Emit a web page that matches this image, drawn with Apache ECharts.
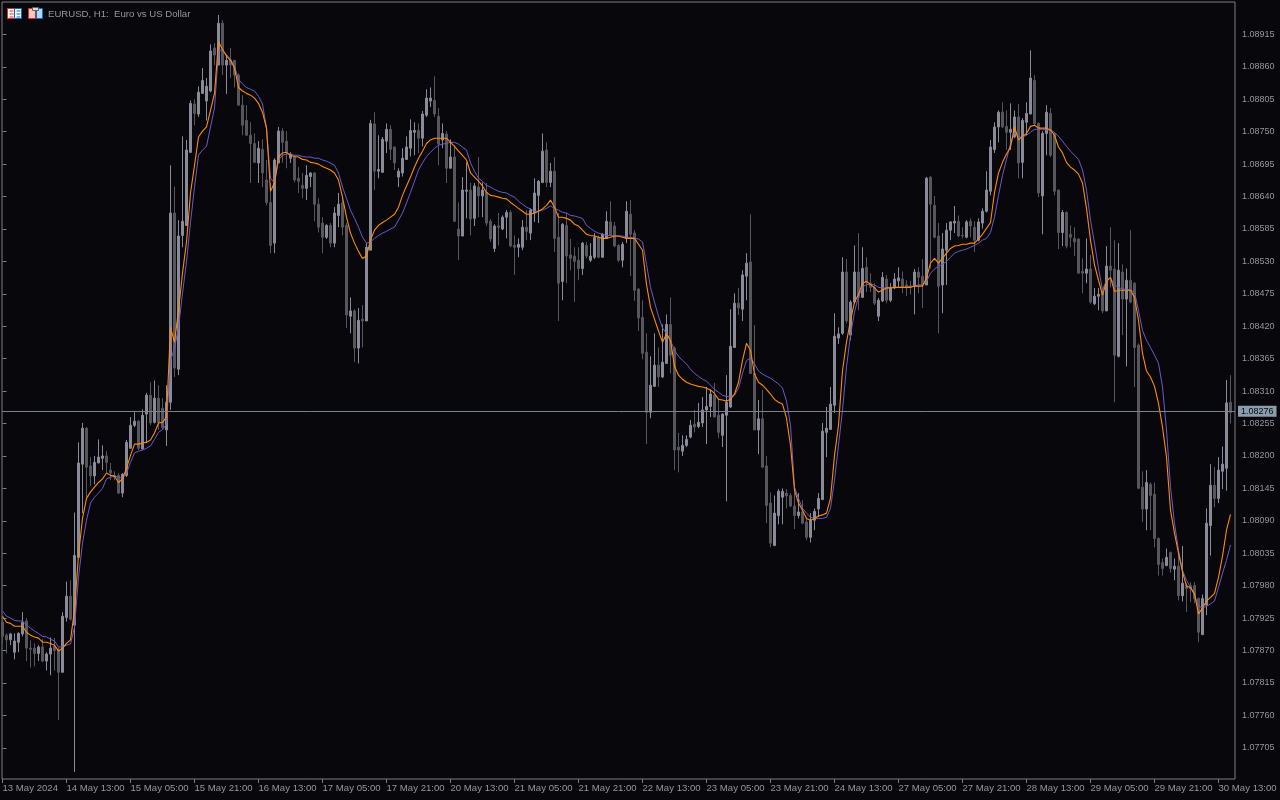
<!DOCTYPE html>
<html><head><meta charset="utf-8">
<style>html,body{margin:0;padding:0;background:#07070c}#c{width:1280px;height:800px}</style>
<script src="https://cdn.jsdelivr.net/npm/echarts@6/dist/echarts.min.js"></script>
</head><body><div id="c"></div>
<script>
// all price arrays are in points above 1.07000 (1276 = 1.08276)
const basePrice = 1.07;
const opens = [918,896,888,867,884,898,920,874,874,865,
876,852,864,877,872,833,926,962,913,1028,
1186,1247,1183,1166,1188,1196,1200,1176,1167,1167,
1137,1167,1213,1252,1259,1212,1271,1303,1257,1298,
1281,1244,1291,1612,1347,1574,1591,1715,1797,1780,
1815,1802,1819,1892,1863,1934,1863,1871,1871,1846,
1795,1769,1744,1730,1697,1720,1668,1630,1561,1697,
1751,1734,1705,1707,1671,1659,1654,1674,1680,1627,
1595,1571,1591,1561,1608,1629,1591,1437,1446,1383,
1432,1429,1549,1763,1683,1681,1734,1754,1724,1673,
1680,1703,1722,1749,1752,1739,1778,1802,1803,1776,
1736,1746,1688,1707,1585,1573,1649,1651,1603,1656,
1641,1647,1598,1552,1590,1585,1605,1613,1557,1554,
1554,1588,1578,1612,1642,1664,1719,1664,1683,1571,
1496,1591,1541,1539,1532,1518,1557,1532,1537,1571,
1537,1569,1597,1590,1557,1532,1569,1610,1578,1483,
1435,1376,1274,1318,1354,1334,1357,1423,1383,1215,
1208,1218,1232,1254,1250,1256,1278,1284,1303,1269,
1235,1269,1283,1384,1459,1449,1505,1529,1340,1244,
1263,1183,1120,1048,1099,1130,1137,1133,1115,1099,
1105,1088,1062,1091,1110,1126,1240,1245,1286,1400,
1408,1512,1405,1461,1512,1469,1520,1493,1486,1437,
1463,1500,1464,1485,1497,1500,1490,1488,1488,1512,
1505,1490,1673,1625,1573,1490,1549,1583,1595,1598,
1574,1571,1598,1588,1566,1595,1615,1649,1720,1758,
1783,1759,1749,1741,1775,1698,1766,1780,1837,1764,
1641,1747,1781,1747,1651,1579,1613,1576,1569,1568,
1513,1510,1517,1458,1471,1476,1446,1522,1517,1369,
1512,1466,1498,1493,1388,1147,1110,1152,1135,1060,
1019,1014,1036,1008,1013,963,980,980,980,958,
897,947,1082,1150,1128,1174,1179,1291];
const closes = [894,888,898,886,899,918,874,872,865,876,
852,864,874,870,833,928,962,923,1031,1188,
1247,1181,1166,1189,1198,1200,1189,1171,1164,1137,
1169,1223,1252,1259,1213,1269,1303,1256,1298,1257,
1248,1291,1612,1349,1573,1598,1719,1798,1781,1817,
1837,1827,1887,1880,1934,1863,1871,1863,1846,1795,
1761,1744,1730,1698,1722,1680,1630,1557,1702,1751,
1732,1715,1712,1668,1666,1654,1676,1680,1627,1588,
1571,1591,1561,1612,1627,1588,1439,1446,1383,1430,
1429,1554,1764,1683,1686,1737,1754,1720,1697,1683,
1705,1724,1752,1752,1739,1780,1807,1807,1780,1729,
1747,1688,1707,1598,1573,1651,1651,1602,1658,1641,
1651,1595,1568,1590,1588,1605,1613,1556,1554,1559,
1588,1581,1617,1646,1666,1717,1664,1683,1569,1493,
1593,1539,1535,1530,1518,1561,1539,1539,1571,1537,
1576,1598,1574,1556,1532,1559,1615,1576,1481,1434,
1374,1274,1320,1354,1334,1359,1423,1371,1210,1210,
1218,1228,1252,1249,1257,1278,1284,1305,1266,1240,
1271,1291,1386,1459,1451,1507,1527,1340,1244,1263,
1181,1116,1052,1103,1140,1140,1132,1115,1099,1105,
1086,1062,1091,1106,1128,1242,1247,1288,1403,1407,
1512,1429,1461,1512,1469,1518,1495,1486,1459,1464,
1503,1464,1486,1500,1502,1486,1485,1486,1512,1503,
1490,1671,1627,1571,1488,1551,1583,1597,1598,1573,
1573,1597,1590,1566,1597,1615,1651,1724,1758,1783,
1758,1749,1754,1775,1697,1769,1781,1841,1764,1646,
1747,1783,1710,1649,1579,1613,1556,1571,1563,1510,
1510,1517,1461,1471,1474,1446,1522,1515,1371,1515,
1466,1498,1461,1384,1145,1110,1155,1133,1060,1016,
1009,1028,1009,1013,963,984,975,975,958,901,
958,1086,1150,1128,1176,1186,1290,1274];
const lows = [882,865,879,855,867,894,852,841,843,852,
850,836,828,836,752,833,919,921,664,1028,
1103,1130,1149,1152,1188,1176,1172,1159,1159,1135,
1130,1164,1213,1249,1210,1210,1222,1252,1255,1244,
1244,1217,1278,1334,1337,1554,1591,1714,1761,1775,
1815,1769,1817,1863,1863,1846,1814,1841,1825,1795,
1744,1744,1663,1697,1663,1656,1625,1544,1544,1697,
1697,1688,1697,1664,1646,1637,1634,1656,1598,1579,
1544,1568,1554,1554,1588,1574,1417,1408,1359,1357,
1384,1429,1549,1651,1671,1681,1714,1702,1685,1656,
1674,1702,1708,1710,1714,1725,1775,1792,1775,1693,
1722,1663,1688,1597,1532,1573,1603,1574,1590,1605,
1605,1590,1563,1546,1557,1583,1569,1554,1507,1537,
1549,1566,1566,1597,1595,1663,1656,1656,1546,1429,
1464,1493,1515,1461,1498,1507,1535,1529,1534,1535,
1537,1569,1574,1554,1529,1520,1561,1505,1463,1412,
1364,1220,1264,1317,1317,1332,1357,1340,1176,1172,
1200,1215,1230,1240,1247,1249,1220,1266,1266,1230,
1215,1123,1281,1384,1439,1429,1464,1340,1244,1203,
1179,1086,1045,1047,1084,1084,1111,1113,1076,1094,
1084,1057,1053,1074,1096,1125,1198,1244,1273,1390,
1405,1425,1396,1458,1447,1468,1478,1478,1456,1429,
1461,1459,1461,1483,1485,1476,1471,1474,1440,1476,
1451,1490,1518,1569,1408,1442,1490,1566,1578,1571,
1569,1569,1571,1546,1564,1586,1613,1642,1714,1732,
1756,1719,1719,1739,1671,1671,1744,1780,1761,1639,
1576,1710,1707,1642,1551,1556,1552,1554,1539,1510,
1476,1493,1458,1456,1447,1442,1446,1486,1291,1367,
1405,1352,1459,1317,1145,1088,1074,1074,1045,997,
997,1013,1002,989,955,953,935,952,950,884,
896,930,1031,1113,1120,1144,1141,1255];
const highs = [925,899,899,899,901,935,925,887,882,879,
889,867,892,891,875,935,987,989,1104,1223,
1256,1249,1198,1200,1228,1218,1208,1188,1174,1171,
1171,1227,1266,1274,1261,1279,1307,1325,1328,1320,
1298,1320,1693,1657,1600,1742,1736,1803,1805,1827,
1858,1841,1898,1900,1948,1939,1880,1892,1871,1849,
1812,1795,1766,1747,1734,1737,1702,1663,1705,1758,
1756,1751,1715,1710,1690,1680,1693,1681,1681,1637,
1605,1593,1595,1622,1646,1639,1595,1469,1449,1451,
1456,1561,1770,1783,1744,1741,1764,1761,1725,1688,
1722,1742,1771,1766,1764,1785,1822,1825,1844,1790,
1764,1751,1737,1727,1630,1673,1698,1663,1663,1707,
1664,1663,1602,1593,1612,1608,1617,1617,1574,1569,
1600,1617,1620,1671,1668,1747,1732,1697,1707,1612,
1595,1613,1568,1554,1554,1563,1563,1561,1578,1574,
1578,1615,1632,1597,1559,1563,1632,1634,1583,1485,
1464,1408,1369,1408,1384,1423,1440,1469,1386,1239,
1235,1235,1261,1278,1290,1300,1317,1312,1324,1295,
1272,1337,1449,1476,1485,1515,1544,1610,1422,1295,
1312,1200,1138,1133,1144,1145,1144,1137,1155,1137,
1125,1093,1103,1111,1137,1256,1283,1317,1442,1418,
1537,1534,1464,1557,1578,1554,1537,1510,1493,1468,
1512,1507,1493,1510,1520,1513,1498,1497,1517,1520,
1534,1673,1674,1641,1595,1578,1595,1598,1624,1608,
1588,1600,1603,1598,1603,1620,1683,1736,1766,1786,
1800,1786,1798,1786,1797,1773,1800,1888,1846,1766,
1751,1795,1790,1749,1652,1617,1615,1591,1588,1569,
1535,1569,1541,1485,1485,1481,1556,1588,1566,1561,
1525,1518,1583,1495,1391,1174,1176,1155,1155,1062,
1026,1043,1038,1026,1035,1047,984,986,986,960,
965,1111,1186,1181,1198,1216,1329,1337];
const fastLine = [928,918,916,911,911,911,901,896,893,891,884,884,882,879,869,874,882,888,938,1032,1094,1128,1139,1147,1155,1161,1171,1167,1166,1155,1161,1179,1201,1220,1220,1222,1223,1227,1239,1256,1257,1266,
1418,1393,1447,1510,1563,1646,1693,1741,1751,1758,1786,1815,1902,1890,1878,1871,1858,1825,1819,1815,1812,1807,1798,1783,1756,1649,1663,1707,1714,1715,1710,1708,1707,1703,1702,1698,1697,1695,1691,1688,1685,1680,1668,1639,1605,
1578,1561,1547,1535,1539,1566,1583,1591,1596,1600,1605,1610,1622,1642,1658,1673,1690,1705,1717,1730,1736,1739,1739,1739,1739,1732,1725,1717,1710,1702,1680,1673,1666,1658,1647,1642,1641,1639,1637,1636,1630,1625,1620,1615,1610,1610,1612,1615,1619,1625,1634,1622,1605,1605,1603,1600,1593,1590,1583,1576,1574,1573,1571,1569,1569,1571,1573,1573,1571,1569,1569,1569,1559,
1549,1491,1452,1432,1412,1393,1407,1396,1352,1337,1330,1325,1322,1320,1318,1317,1315,1312,1306,1296,1295,1293,1296,1305,1325,1362,1391,1379,1339,1325,1320,1313,1305,1296,1291,1288,1264,1218,1142,1120,1108,1094,1091,1094,1098,1100,1103,1128,1201,1252,1345,1393,1430,1461,1474,
1493,1496,1491,1485,1478,1481,1485,1485,1486,1486,1486,1486,1486,1488,1488,1488,1502,1527,1535,1527,1535,1544,1552,1556,1557,1559,1559,1561,1561,1568,1576,1586,1596,1647,1680,1698,1712,1724,1758,1736,1742,1747,1759,1761,1756,1756,1756,1753,1744,1724,1714,1698,1690,1685,1678,1663,1620,1566,1524,1498,1473,1496,1503,1479,1481,1481,1481,1481,1469,1430,1374,1344,1334,1318,1289,1249,1198,1108,1069,1035,1003,979,977,966,932,942,954,960,967,994,1030,1074,1101];
const slowLine = [937,928,925,921,920,920,913,908,903,899,894,893,889,886,876,876,879,881,910,994,1052,1091,1120,1130,1137,1145,1161,1164,1166,1164,1162,1171,1189,1205,1208,1210,1213,1217,1228,1240,1245,1254,
1362,1383,1418,1476,1529,1596,1656,1710,1719,1725,1758,1790,1888,1888,1881,1873,1861,1839,1831,1825,1822,1819,1810,1797,1756,1671,1663,1702,1710,1712,1712,1710,1710,1708,1707,1707,1705,1705,1702,1700,1697,1693,1680,1656,1637,
1617,1603,1588,1571,1561,1563,1569,1574,1578,1581,1585,1588,1600,1612,1629,1647,1666,1685,1697,1708,1715,1722,1727,1729,1730,1732,1732,1729,1724,1719,1697,1683,1671,1666,1659,1656,1652,1649,1647,1646,1642,1639,1632,1627,1622,1619,1615,1615,1617,1620,1624,1620,1617,1613,1612,1608,1607,1605,1603,1591,1586,1581,1578,1576,1574,1574,1573,1573,1573,1571,1571,1569,1568,
1563,1525,1486,1461,1437,1417,1408,1396,1379,1369,1362,1356,1347,1340,1335,1330,1327,1320,1313,1308,1303,1301,1300,1303,1315,1340,1362,1366,1356,1344,1339,1335,1332,1327,1322,1315,1293,1252,1147,1128,1111,1103,1096,1094,1094,1094,1096,1111,1159,1218,1278,1351,1405,1444,1471,
1486,1491,1491,1490,1486,1485,1485,1486,1486,1486,1486,1486,1488,1488,1490,1490,1496,1510,1517,1522,1525,1530,1537,1544,1547,1549,1551,1554,1557,1561,1566,1569,1579,1605,1642,1676,1703,1730,1749,1741,1741,1744,1749,1754,1754,1754,1753,1753,1749,1742,1734,1725,1717,1710,1703,1685,1651,1600,1561,1518,1481,1498,1502,1490,1486,1483,1483,1481,1478,1447,1413,1396,1384,1371,1357,1317,1244,1147,1086,1040,1006,989,977,964,945,942,945,949,954,977,1001,1023,1049];
const lastPrice = 1.08276;
const priceTicks = ["1.07705","1.07760","1.07815","1.07870","1.07925","1.07980","1.08035","1.08090","1.08145","1.08200","1.08255","1.08310","1.08365","1.08420","1.08475","1.08530","1.08585","1.08640","1.08695","1.08750","1.08805","1.08860","1.08915"];
const timeLabels = ["13 May 2024","14 May 13:00","15 May 05:00","15 May 21:00","16 May 13:00","17 May 05:00","17 May 21:00","20 May 13:00","21 May 05:00","21 May 21:00","22 May 13:00","23 May 05:00","23 May 21:00","24 May 13:00","27 May 05:00","27 May 21:00","28 May 13:00","29 May 05:00","29 May 21:00","30 May 13:00"];
const barsPerLabel = 16;
const chartTitle = "EURUSD, H1:  Euro vs US Dollar";

const px = v => +(basePrice + v / 1e5).toFixed(5);
const tickPos = timeLabels.map((_, k) => k * barsPerLabel);
const candleData = opens.map((o, i) => [i, px(o), px(closes[i]), px(lows[i]), px(highs[i])]);
const toLine = a => a.map((v, i) => [i, px(v)]);
const FONT = '"Liberation Sans", "Noto Sans", sans-serif';
const TXT = '#95979c', FRAME = '#7f8084';
const icon = (x, y, w, h, fill, stroke) => ({type:'rect', silent:true, z:100,
  shape:{x:x+.5, y:y+.5, width:w, height:h},
  style:{fill:fill, stroke:stroke||null, lineWidth:1}});

const chart = echarts.init(document.getElementById('c'), null, {renderer:'canvas'});
chart.setOption({
  animation:false,
  backgroundColor:'#07070c',
  title:{text:chartTitle, left:48, top:9, padding:0, textStyle:{color:TXT, fontSize:9.6, fontWeight:'normal', fontFamily:FONT}},
  grid:{left:2, top:2, width:1233, height:777, show:true, borderColor:FRAME, borderWidth:1, backgroundColor:'transparent', outerBoundsMode:'none'},
  xAxis:{type:'value', min:-0.125, max:308.125, splitLine:{show:false}, axisLine:{show:false},
    axisTick:{show:true, length:4, lineStyle:{color:FRAME}, customValues:tickPos},
    axisLabel:{color:TXT, fontSize:9.6, fontFamily:FONT, align:'left', margin:4, padding:[0,0,0,0],
      customValues:tickPos, hideOverlap:false, formatter:v=>timeLabels[Math.round(v/barsPerLabel)]||''}},
  yAxis:{type:'value', position:'right', min:1.07652, max:1.0897, scale:true, splitLine:{show:false}, axisLine:{show:false},
    axisTick:{show:true, length:4, lineStyle:{color:FRAME}, customValues:priceTicks.map(Number)},
    axisLabel:{color:TXT, fontSize:9, fontFamily:FONT, margin:7, customValues:priceTicks.map(Number), formatter:v=>v.toFixed(5)}},
  series:[
    {type:'candlestick', data:candleData, barWidth:2, clip:true,
      encode:{x:0, y:[1,2,3,4]},
      itemStyle:{color:'#8a8b98', color0:'#56565c', borderColor:'#8a8b98', borderColor0:'#56565c', borderWidth:1},
      markLine:{silent:true, symbol:'none', animation:false, precision:5,
        lineStyle:{color:'#7a838c', width:1, type:'solid'},
        label:{show:true, position:'end', distance:3, formatter:()=>lastPrice.toFixed(5), color:'#07070c', backgroundColor:'#8a9dac', fontSize:9, fontFamily:FONT, padding:[1,3,1,3]},
        data:[{yAxis:lastPrice}]}},
    {type:'line', data:toLine(slowLine), showSymbol:false, symbol:'none', lineStyle:{color:'#6a5acd', width:1}, z:3},
    {type:'line', data:toLine(fastLine), showSymbol:false, symbol:'none', lineStyle:{color:'#ff8c00', width:1.1}, z:4}
  ],
  graphic:[
    icon(7,8,7,10,'#ffffff','#e02828'), icon(14,8,7,10,'#ffffff','#1068b8'),
    icon(9,10,4,1,'#e02828'), icon(9,13,4,1,'#e02828'), icon(9,16,4,1,'#e02828'),
    icon(16,10,4,1,'#1068b8'), icon(16,13,4,1,'#1068b8'), icon(16,16,4,1,'#1068b8'),
    icon(28,8,7,10,'#ffc8c0','#e02828'), icon(36,8,6,10,'#a8dcf8','#1068b8'),
    icon(32,7,6,3,'#d8d8d8','#606060')
  ]
});
</script></body></html>
